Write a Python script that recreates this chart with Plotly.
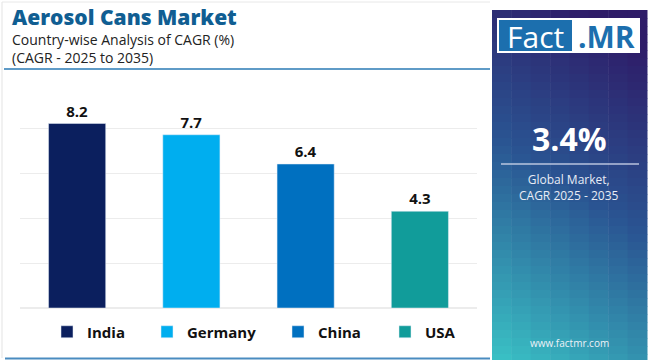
import plotly.graph_objects as go

countries = ["India", "Germany", "China", "USA"]
cagr = [8.2, 7.7, 6.4, 4.3]
colors = ["#0b1f5e", "#00aeef", "#0070c0", "#119c9a"]
global_cagr = "3.4%"

W, H = 650, 360
ML, MR, MT, MB = 20, 173, 83, 52
PW, PH = W - ML - MR, H - MT - MB

def px(x):
    return (x - ML) / PW

def py(y):
    return (H - MB - y) / PH

fig = go.Figure()
legend_x = [47, 147, 278, 385]
for i, (c, v, col) in enumerate(zip(countries, cagr, colors)):
    lg = "legend" if i == 0 else f"legend{i+1}"
    fig.add_trace(go.Bar(
        x=[c], y=[v], name=c, marker_color=col, width=0.5,
        text=[f"{v:.1f}"], textposition="outside",
        textfont=dict(family="Open Sans", size=15, color="#111", weight="bold"),
        cliponaxis=False, legend=lg, showlegend=True,
    ))

shapes = []
# gradient panel
x0p, x1p, y0p, y1p = 492, 647, 10, 362
ncol, nrow = 8, 44
c_top = (46, 28, 104)
c_mid = (42, 84, 146)
c_bot = (58, 196, 198)
def lerp(a, b, t):
    return tuple(int(round(a[k] + (b[k] - a[k]) * t)) for k in range(3))
for r in range(nrow):
    for cidx in range(ncol):
        yf = (r + 0.5) / nrow
        xf = (cidx + 0.5) / ncol
        s = 0.85 * yf + 0.25 * (1 - xf) - 0.1
        s = max(0, min(1, s))
        if s < 0.45:
            col = lerp(c_top, c_mid, s / 0.45)
        else:
            col = lerp(c_mid, c_bot, (s - 0.45) / 0.55)
        xa = x0p + (x1p - x0p) * cidx / ncol
        xb = x0p + (x1p - x0p) * (cidx + 1) / ncol
        ya = y0p + (y1p - y0p) * r / nrow
        yb = y0p + (y1p - y0p) * (r + 1) / nrow
        shapes.append(dict(type="rect", xref="paper", yref="paper",
                           x0=px(xa), x1=px(xb + 0.5), y0=py(ya), y1=py(yb + 0.5),
                           fillcolor=f"rgb{col}", line=dict(width=0), layer="below"))
# logo
shapes.append(dict(type="rect", xref="paper", yref="paper", x0=px(497), x1=px(640), y0=py(18), y1=py(53),
                   fillcolor="white", line=dict(width=0)))
shapes.append(dict(type="rect", xref="paper", yref="paper", x0=px(499), x1=px(572), y0=py(20), y1=py(51),
                   fillcolor="#1c6fae", line=dict(width=0)))
# divider in panel
shapes.append(dict(type="line", xref="paper", yref="paper", x0=px(501), x1=px(639), y0=py(164), y1=py(164),
                   line=dict(color="rgba(210,215,235,0.85)", width=1.5)))
# title underline
shapes.append(dict(type="line", xref="paper", yref="paper", x0=px(4), x1=px(490), y0=py(69), y1=py(69),
                   line=dict(color="#2a7ab5", width=1.5)))
# bottom line
shapes.append(dict(type="line", xref="paper", yref="paper", x0=px(5), x1=px(490), y0=py(358.5), y1=py(358.5),
                   line=dict(color="#4a8cc0", width=2)))
# frame
shapes.append(dict(type="line", xref="paper", yref="paper", x0=px(2), x1=px(2), y0=py(2), y1=py(358),
                   line=dict(color="#e3e3e3", width=1)))
shapes.append(dict(type="line", xref="paper", yref="paper", x0=px(2), x1=px(490), y0=py(2), y1=py(2),
                   line=dict(color="#e8e8e8", width=1)))

ann = []
def A(text, x, y, size, color, weight="normal", xanchor="left", yanchor="middle", family="Open Sans"):
    ann.append(dict(text=text, x=px(x), y=py(y), xref="paper", yref="paper", showarrow=False,
                    xanchor=xanchor, yanchor=yanchor, align="left" if xanchor == "left" else "center",
                    font=dict(family=family, size=size, color=color, weight=weight)))

A("Aerosol Cans Market", 10, 17, 21, "#105e92", weight=800)
A("Country-wise Analysis of CAGR (%)<br>(CAGR - 2025 to 2035)", 10, 48, 14, "#222")
A("Fact", 535, 36, 30, "white", xanchor="center")
A(".MR", 606, 36, 30, "#1c6fae", weight="bold", xanchor="center")
A(global_cagr, 569, 138, 32, "white", weight="bold", xanchor="center")
A("Global Market,<br>CAGR 2025 - 2035", 569, 187, 12, "#e8ecf5", xanchor="center")
A("www.factmr.com", 569, 343, 10, "#eef2f8", xanchor="center")

layout_legends = {}
for i, lx in enumerate(legend_x):
    key = "legend" if i == 0 else f"legend{i+1}"
    layout_legends[key] = dict(x=px(lx), y=py(332), xanchor="left", yanchor="middle",
                               orientation="h", bgcolor="rgba(0,0,0,0)",
                               font=dict(family="Open Sans", size=15, color="#111", weight="bold"))

fig.update_layout(
    width=W, height=H, margin=dict(l=ML, r=MR, t=MT, b=MB, autoexpand=False),
    paper_bgcolor="white", plot_bgcolor="white",
    shapes=shapes, annotations=ann, showlegend=True,
    xaxis=dict(showticklabels=False, showgrid=False, zeroline=False, showline=False),
    yaxis=dict(range=[0, 10], dtick=2, showticklabels=False, gridcolor="#ececec",
               zeroline=True, zerolinecolor="#ececec", showline=False),
    bargap=0.5,
    **layout_legends,
)

fig.write_html("out.html", config={"displayModeBar": False},
               post_script="document.body.style.margin='0';document.body.style.padding='0';")
